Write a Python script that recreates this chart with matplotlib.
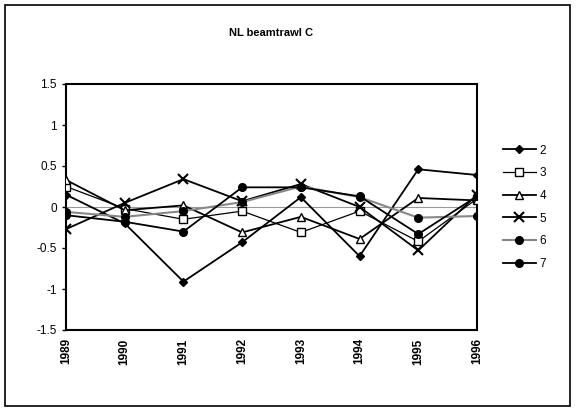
import matplotlib.pyplot as plt
from matplotlib.patches import Rectangle

years = ['1989', '1990', '1991', '1992', '1993', '1994', '1995', '1996']
ages = ['2', '3', '4', '5', '6', '7']

# values
age2 = [0.15, -0.20, -0.91, -0.43, 0.12, -0.60, 0.46, 0.39]
age3 = [0.25, -0.02, -0.15, -0.05, -0.31, -0.05, -0.42, 0.10]
age4 = [0.33, -0.04, 0.02, -0.31, -0.12, -0.39, 0.11, 0.08]
age5 = [-0.27, 0.05, 0.34, 0.07, 0.28, 0.00, -0.53, 0.15]
age6 = [-0.06, -0.12, -0.05, 0.06, 0.25, 0.12, -0.13, -0.11]
age7 = [-0.10, -0.18, -0.30, 0.24, 0.24, 0.13, -0.33, 0.13]

series = [age2, age3, age4, age5, age6, age7]
styles = [
	dict(color='black', marker='D', ms=4, mfc='black', lw=1.3),
	dict(color='black', marker='s', ms=5.5, mfc='white', lw=0.9),
	dict(color='black', marker='^', ms=5.5, mfc='white', lw=1.3),
	dict(color='black', marker='x', ms=7, mew=1.5, lw=1.3),
	dict(color='#888888', marker='o', ms=5.5, mfc='black', mec='black', lw=1.5),
	dict(color='black', marker='o', ms=5.5, mfc='black', lw=1.3),
]

fig = plt.figure(figsize=(5.76, 4.09), dpi=100)
fig.patches.append(Rectangle((5 / 576, 3 / 409), 565 / 576, 401 / 409,
	transform=fig.transFigure, fill=False, edgecolor='black', lw=1.2))

ax = fig.add_axes([66 / 576, 79 / 409, 411 / 576, 246 / 409])
x = range(len(years))
ax.axhline(0, color='#999999', lw=0.8, zorder=1)
for i in range(len(series)):
	ax.plot(x, series[i], label=ages[i], zorder=3, **styles[i])

ax.set_xlim(0, len(years) - 1)
ax.set_ylim(-1.5, 1.5)
ax.set_yticks([-1.5, -1, -0.5, 0, 0.5, 1, 1.5])
ax.set_yticklabels(['-1.5', '-1', '-0.5', '0', '0.5', '1', '1.5'], fontsize=8.5,
	family='Liberation Sans')
ax.set_xticks(list(x))
ax.set_xticklabels(years, rotation=90, fontsize=8.5, family='Liberation Sans',
	fontweight='bold')
ax.tick_params(axis='x', length=0, pad=6)
ax.tick_params(axis='y', length=3, direction='out', width=1)
for s in ax.spines.values():
	s.set_linewidth(1.5)

fig.text(0.47, 1 - 33 / 409, 'NL beamtrawl C', ha='center', va='center',
	fontsize=8, fontweight='bold', family='Liberation Sans')

ax.legend(loc='upper left', bbox_to_anchor=(492 / 576, 1 - 134 / 409),
	bbox_transform=fig.transFigure, frameon=False,
	handlelength=2.8, labelspacing=0.9, handletextpad=0.3,
	prop={'family': 'Liberation Sans', 'size': 8.5})

fig.savefig('out.png', dpi=100)
